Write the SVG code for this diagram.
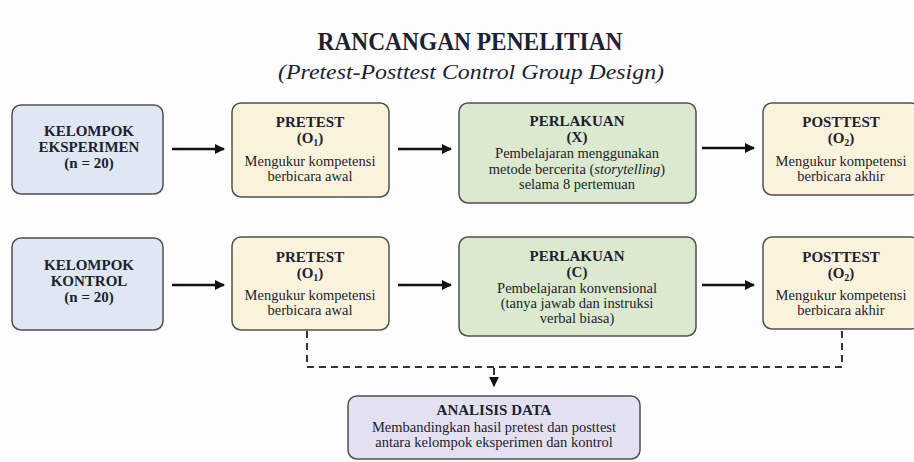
<svg xmlns="http://www.w3.org/2000/svg" width="914" height="462" viewBox="0 0 914 462">
<defs>
<style>
text{font-family:"Liberation Serif","Times New Roman",serif;fill:#1c2130;text-anchor:middle}
.h{font-weight:bold;font-size:15px}
.b{font-size:14.5px}
.sub{font-size:10px}
.box{stroke:#505050;stroke-width:1.5}
.grp{fill:#dfe7f3}
.tst{fill:#fcf3dd}
.trt{fill:#dbeacf}
.ana{fill:#e3e1f1}
.arr{stroke:#111;stroke-width:2.5;fill:none;marker-end:url(#ah)}
.dash{stroke:#333;stroke-width:2;fill:none;stroke-dasharray:7 5}
</style>
<marker id="ah" viewBox="0 0 10 10" refX="9" refY="5" markerWidth="4" markerHeight="4" orient="auto" markerUnits="strokeWidth">
<path d="M0,0 L10,5 L0,10 z" fill="#111"/>
</marker>
<marker id="ah2" viewBox="0 0 10 10" refX="9" refY="5" markerWidth="5" markerHeight="5" orient="auto" markerUnits="strokeWidth">
<path d="M0,0 L10,5 L0,10 z" fill="#111"/>
</marker>
</defs>
<rect width="914" height="462" fill="#fdfdfd"/>
<g id="title">
<text x="470" y="50" font-size="25" font-weight="bold" textLength="305" lengthAdjust="spacingAndGlyphs">RANCANGAN PENELITIAN</text>
<text x="471" y="79" font-size="22" font-style="italic" textLength="386" lengthAdjust="spacingAndGlyphs">(Pretest-Posttest Control Group Design)</text>
</g>
<g id="connectors">
<line class="arr" x1="172" y1="149" x2="224" y2="149"/>
<line class="arr" x1="398" y1="149" x2="451" y2="149"/>
<line class="arr" x1="702" y1="148" x2="754" y2="148"/>
<line class="arr" x1="172" y1="285" x2="224" y2="285"/>
<line class="arr" x1="398" y1="285" x2="451" y2="285"/>
<line class="arr" x1="702" y1="285" x2="754" y2="285"/>
<path class="dash" d="M307,331 V367 H842 V330"/>
<path class="dash" d="M494,368 V386" style="marker-end:url(#ah2)"/>
</g>
<g id="kelompok-eksperimen">
<rect class="box grp" x="12" y="105" width="151" height="89" rx="9"/>
<text class="h" x="89" y="136">KELOMPOK</text>
<text class="h" x="89" y="152">EKSPERIMEN</text>
<text class="h" x="89" y="168">(n = 20)</text>
</g>
<g id="pretest-eksperimen">
<rect class="box tst" x="232" y="103" width="157" height="94" rx="9"/>
<text class="h" x="310" y="127">PRETEST</text>
<text class="h" x="310" y="143">(O<tspan class="sub" dy="3">1</tspan><tspan dy="-3">)</tspan></text>
<text class="b" x="310" y="166">Mengukur kompetensi</text>
<text class="b" x="310" y="181">berbicara awal</text>
</g>
<g id="perlakuan-eksperimen">
<rect class="box trt" x="459" y="103" width="237" height="100" rx="9"/>
<text class="h" x="577" y="126">PERLAKUAN</text>
<text class="h" x="577" y="142">(X)</text>
<text class="b" x="577" y="158">Pembelajaran menggunakan</text>
<text class="b" x="577" y="174">metode bercerita (<tspan font-style="italic">storytelling</tspan>)</text>
<text class="b" x="577" y="189">selama 8 pertemuan</text>
</g>
<g id="posttest-eksperimen">
<rect class="box tst" x="763" y="103" width="157" height="92" rx="9"/>
<text class="h" x="841" y="127">POSTTEST</text>
<text class="h" x="841" y="143">(O<tspan class="sub" dy="3">2</tspan><tspan dy="-3">)</tspan></text>
<text class="b" x="841" y="166">Mengukur kompetensi</text>
<text class="b" x="841" y="181">berbicara akhir</text>
</g>
<g id="kelompok-kontrol">
<rect class="box grp" x="12" y="238" width="151" height="92" rx="9"/>
<text class="h" x="89" y="270">KELOMPOK</text>
<text class="h" x="89" y="286">KONTROL</text>
<text class="h" x="89" y="302">(n = 20)</text>
</g>
<g id="pretest-kontrol">
<rect class="box tst" x="232" y="237" width="157" height="93" rx="9"/>
<text class="h" x="310" y="262">PRETEST</text>
<text class="h" x="310" y="278">(O<tspan class="sub" dy="3">1</tspan><tspan dy="-3">)</tspan></text>
<text class="b" x="310" y="300">Mengukur kompetensi</text>
<text class="b" x="310" y="315">berbicara awal</text>
</g>
<g id="perlakuan-kontrol">
<rect class="box trt" x="459" y="237" width="237" height="99" rx="9"/>
<text class="h" x="577" y="261">PERLAKUAN</text>
<text class="h" x="577" y="277">(C)</text>
<text class="b" x="577" y="293">Pembelajaran konvensional</text>
<text class="b" x="577" y="308">(tanya jawab dan instruksi</text>
<text class="b" x="577" y="323">verbal biasa)</text>
</g>
<g id="posttest-kontrol">
<rect class="box tst" x="763" y="237" width="157" height="92" rx="9"/>
<text class="h" x="841" y="262">POSTTEST</text>
<text class="h" x="841" y="278">(O<tspan class="sub" dy="3">2</tspan><tspan dy="-3">)</tspan></text>
<text class="b" x="841" y="300">Mengukur kompetensi</text>
<text class="b" x="841" y="315">berbicara akhir</text>
</g>
<g id="analisis-data">
<rect class="box ana" x="348" y="396" width="292" height="63" rx="9"/>
<text class="h" x="494" y="415">ANALISIS DATA</text>
<text class="b" x="494" y="432">Membandingkan hasil pretest dan posttest</text>
<text class="b" x="494" y="447">antara kelompok eksperimen dan kontrol</text>
</g>
</svg>
